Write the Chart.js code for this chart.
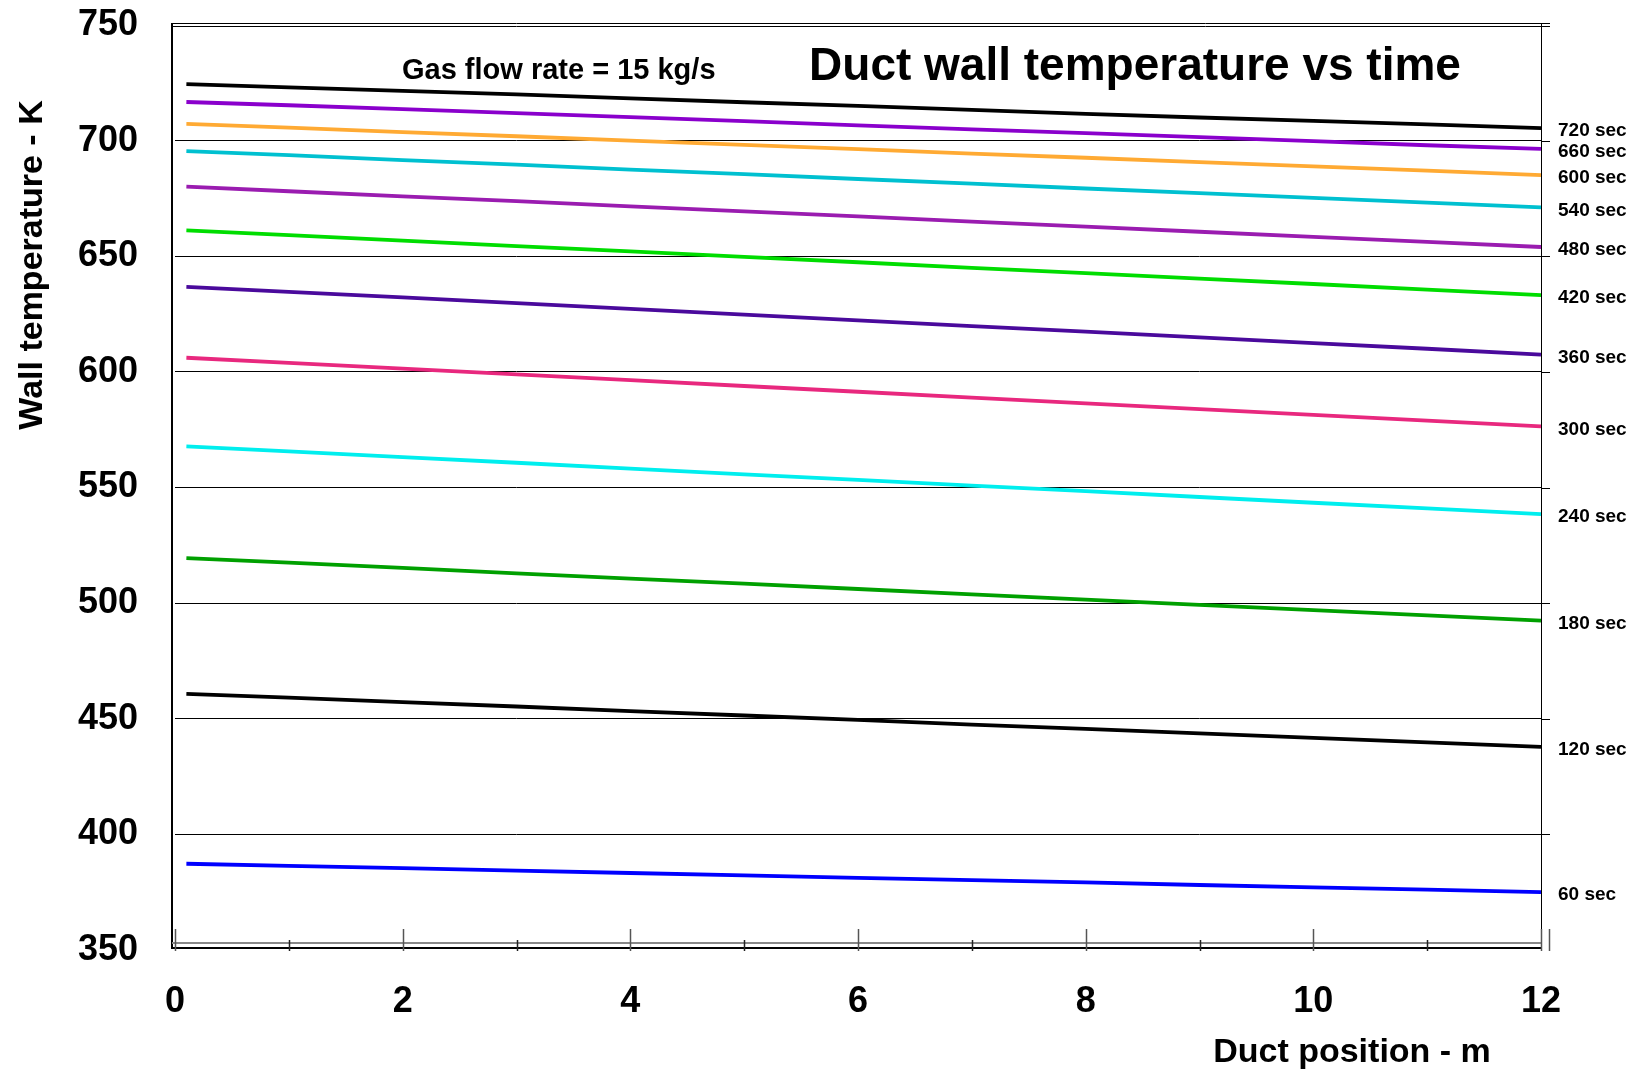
<!DOCTYPE html>
<html>
<head>
<meta charset="utf-8">
<script src="https://cdn.jsdelivr.net/npm/chart.js@4.4.0/dist/chart.umd.min.js"></script>
<style>
  html, body { margin: 0; padding: 0; background: #fff; }
  #wrap { width: 1636px; height: 1073px; }
</style>
</head>
<body>
<div id="wrap"><canvas id="chart" width="1636" height="1073"></canvas></div>
<script>
// positions along the duct (m)
const positions = [0.1, 1, 2, 3, 4, 5, 6, 7, 8, 9, 10, 11, 12];

// wall temperature (K) for each time
const t720 = [724.4, 723.0, 721.5, 720.0, 718.3, 716.6, 715.0, 713.3, 711.6, 710.0, 708.5, 707.0, 705.4];
const t660 = [716.7, 715.3, 713.6, 711.9, 710.2, 708.4, 706.6, 704.9, 703.2, 701.5, 699.8, 698.0, 696.4];
const t600 = [707.2, 705.6, 703.7, 701.9, 700.0, 698.2, 696.3, 694.4, 692.6, 690.7, 688.9, 687.0, 685.1];
const t540 = [695.5, 693.7, 691.6, 689.6, 687.5, 685.5, 683.4, 681.4, 679.3, 677.3, 675.2, 673.2, 671.1];
const t480 = [680.1, 678.1, 675.9, 673.8, 671.6, 669.4, 667.2, 665.0, 662.8, 660.6, 658.4, 656.2, 654.0];
const t420 = [661.2, 659.1, 656.8, 654.4, 652.1, 649.7, 647.4, 645.0, 642.7, 640.3, 638.0, 635.6, 633.2];
const t360 = [636.8, 634.6, 632.2, 629.7, 627.2, 624.8, 622.3, 619.8, 617.4, 614.9, 612.4, 610.0, 607.5];
const t300 = [606.1, 603.9, 601.4, 598.9, 596.4, 593.9, 591.4, 588.9, 586.4, 583.9, 581.4, 578.9, 576.4];
const t240 = [567.8, 565.6, 563.1, 560.7, 558.2, 555.7, 553.3, 550.8, 548.4, 545.9, 543.4, 541.0, 538.5];
const t180 = [519.5, 517.5, 515.2, 512.9, 510.6, 508.4, 506.1, 503.8, 501.5, 499.2, 497.0, 494.7, 492.4];
const t120 = [460.8, 459.1, 457.2, 455.3, 453.3, 451.4, 449.5, 447.5, 445.6, 443.7, 441.7, 439.8, 437.8];
const t60  = [387.3, 386.4, 385.4, 384.3, 383.3, 382.3, 381.2, 380.2, 379.2, 378.1, 377.1, 376.1, 375.0];

const timeLabels = ['720 sec', '660 sec', '600 sec', '540 sec', '480 sec', '420 sec',
                    '360 sec', '300 sec', '240 sec', '180 sec', '120 sec', '60 sec'];
const seriesValues = [t720, t660, t600, t540, t480, t420, t360, t300, t240, t180, t120, t60];
const seriesColors = ['#000000', '#8a00cc', '#ffaa33', '#00c0d0', '#9a1cb0', '#00dd00',
                      '#4a0a9c', '#e8287e', '#00eeee', '#00a000', '#000000', '#0000ff'];

const yTicks = [350, 400, 450, 500, 550, 600, 650, 700, 750];
const xTicks = [0, 2, 4, 6, 8, 10, 12];

const FONT = '"Liberation Sans", Arial, sans-serif';

// frame, ticks, titles and the time labels at the end of each line
const decorations = {
  id: 'decorations',
  afterDraw(chart) {
    const ctx = chart.ctx;
    const a = chart.chartArea;
    const xs = chart.scales.x;
    const ys = chart.scales.y;
    ctx.save();

    // grid extensions on the right
    ctx.strokeStyle = '#000';
    ctx.lineWidth = 1;
    yTicks.forEach(v => {
      if (v === 350 || v === 750) return;
      const y = Math.round(ys.getPixelForValue(v)) + 0.5;
      ctx.beginPath(); ctx.moveTo(a.right, y); ctx.lineTo(a.right + 9, y); ctx.stroke();
    });

    // top double line
    [a.top - 2, a.top + 1].forEach(y => {
      ctx.beginPath(); ctx.moveTo(a.left - 3, y + 0.5); ctx.lineTo(a.right + 9, y + 0.5); ctx.stroke();
    });
    // right border
    ctx.beginPath(); ctx.moveTo(a.right + 0.5, a.top - 2); ctx.lineTo(a.right + 0.5, a.bottom - 5); ctx.stroke();
    // left border
    ctx.lineWidth = 2;
    ctx.beginPath(); ctx.moveTo(a.left - 3, a.top - 2); ctx.lineTo(a.left - 3, a.bottom - 1); ctx.stroke();

    // bottom axis: gray + black lines
    ctx.strokeStyle = '#888';
    ctx.lineWidth = 2;
    ctx.beginPath(); ctx.moveTo(a.left - 3, a.bottom - 7); ctx.lineTo(a.right, a.bottom - 7); ctx.stroke();
    ctx.strokeStyle = '#000';
    ctx.beginPath(); ctx.moveTo(a.left - 3, a.bottom - 2); ctx.lineTo(a.right, a.bottom - 2); ctx.stroke();

    // x ticks (major at even, minor at odd)
    ctx.lineWidth = 1.5;
    for (let v = 0; v <= 12; v++) {
      const x = Math.round(xs.getPixelForValue(v)) + 0.5;
      const major = v % 2 === 0;
      ctx.strokeStyle = major ? '#555' : '#222';
      ctx.beginPath();
      ctx.moveTo(x, a.bottom - (major ? 21 : 10));
      ctx.lineTo(x, a.bottom + 1);
      ctx.stroke();
    }
    const xe = a.right + 8.5;
    ctx.strokeStyle = '#555';
    ctx.beginPath(); ctx.moveTo(xe, a.bottom - 21); ctx.lineTo(xe, a.bottom + 1); ctx.stroke();

    // time labels next to the line ends
    ctx.fillStyle = '#000';
    ctx.font = 'bold 19px ' + FONT;
    ctx.textAlign = 'left';
    ctx.textBaseline = 'middle';
    chart.data.datasets.forEach((ds, i) => {
      const meta = chart.getDatasetMeta(i);
      const last = meta.data[meta.data.length - 1];
      ctx.fillText(timeLabels[i], a.right + 17, last.y + 3);
    });

    // titles
    ctx.textBaseline = 'alphabetic';
    ctx.font = 'bold 29px ' + FONT;
    ctx.fillText('Gas flow rate = 15 kg/s', 402, 79);
    ctx.textAlign = 'center';
    ctx.font = 'bold 46px ' + FONT;
    ctx.fillText('Duct wall temperature vs time', 1135, 80);

    // x axis title
    ctx.font = 'bold 34px ' + FONT;
    ctx.fillText('Duct position - m', 1352, 1062);

    // y axis title
    ctx.save();
    ctx.translate(42, 265);
    ctx.rotate(-Math.PI / 2);
    ctx.textAlign = 'center';
    ctx.fillText('Wall temperature - K', 0, 0);
    ctx.restore();

    ctx.restore();
  }
};

const datasets = seriesValues.map((vals, i) => ({
  label: timeLabels[i],
  data: positions.map((x, j) => ({ x: x, y: vals[j] })),
  borderColor: seriesColors[i],
  backgroundColor: seriesColors[i],
  borderWidth: 3.8,
  pointRadius: 0,
  tension: 0,
  fill: false
}));

const ctx = document.getElementById('chart').getContext('2d');
new Chart(ctx, {
  type: 'line',
  data: { datasets: datasets },
  options: {
    responsive: false,
    animation: false,
    layout: { padding: { top: 25, right: 95, left: 0, bottom: 0 } },
    plugins: {
      legend: { display: false },
      tooltip: { enabled: false }
    },
    scales: {
      x: {
        type: 'linear',
        min: 0,
        max: 12,
        afterFit: s => {
          s.height = 123;
          s.paddingLeft = 0; s.paddingRight = 0;
        },
        afterBuildTicks: s => { s.ticks = xTicks.map(v => ({ value: v })); },
        grid: { display: false, drawTicks: false },
        border: { display: false },
        ticks: {
          padding: 30,
          color: '#000',
          font: { family: FONT, size: 36, weight: 'bold' },
          maxRotation: 0
        }
      },
      y: {
        type: 'linear',
        min: 350,
        max: 750,
        afterFit: s => {
          s.width = 175;
          s.paddingTop = 0; s.paddingBottom = 0;
        },
        afterBuildTicks: s => { s.ticks = yTicks.map(v => ({ value: v })); },
        grid: {
          color: c => (c.tick && (c.tick.value === 350 || c.tick.value === 750)) ? 'rgba(0,0,0,0)' : '#000',
          lineWidth: 1,
          drawTicks: false
        },
        border: { display: false },
        ticks: {
          padding: 37,
          color: '#000',
          font: { family: FONT, size: 36, weight: 'bold' }
        }
      }
    }
  },
  plugins: [decorations]
});
</script>
</body>
</html>
